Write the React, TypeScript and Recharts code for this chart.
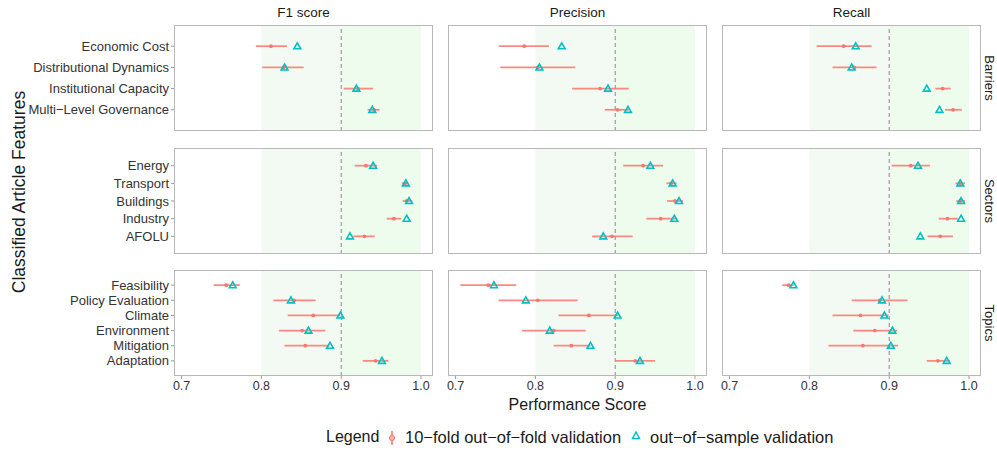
import React from "react";
import {
  ScatterChart,
  Scatter,
  XAxis,
  YAxis,
  ErrorBar,
  ReferenceArea,
  ReferenceLine,
} from "recharts";

const metrics = ["F1 score", "Precision", "Recall"];
const groups = ["Barriers", "Sectors", "Topics"];

const barrierFeatures = [
  "Economic Cost",
  "Distributional Dynamics",
  "Institutional Capacity",
  "Multi\u2212Level Governance",
];
const sectorFeatures = ["Energy", "Transport", "Buildings", "Industry", "AFOLU"];
const topicFeatures = [
  "Feasibility",
  "Policy Evaluation",
  "Climate",
  "Environment",
  "Mitigation",
  "Adaptation",
];

const xTicks = [0.7, 0.8, 0.9, 1.0];

// Barriers
const f1BarriersMean = [0.812, 0.828, 0.921, 0.941];
const f1BarriersLow = [0.793, 0.801, 0.903, 0.933];
const f1BarriersHigh = [0.832, 0.853, 0.94, 0.948];
const f1BarriersOos = [0.845, 0.829, 0.919, 0.939];

const precBarriersMean = [0.786, 0.803, 0.881, 0.903];
const precBarriersLow = [0.754, 0.756, 0.846, 0.887];
const precBarriersHigh = [0.817, 0.85, 0.917, 0.917];
const precBarriersOos = [0.833, 0.805, 0.891, 0.916];

const recBarriersMean = [0.843, 0.856, 0.967, 0.98];
const recBarriersLow = [0.809, 0.829, 0.958, 0.97];
const recBarriersHigh = [0.878, 0.884, 0.977, 0.991];
const recBarriersOos = [0.858, 0.853, 0.947, 0.963];

// Sectors
const f1SectorsMean = [0.931, 0.98, 0.982, 0.966, 0.929];
const f1SectorsLow = [0.917, 0.976, 0.977, 0.957, 0.915];
const f1SectorsHigh = [0.945, 0.984, 0.989, 0.975, 0.942];
const f1SectorsOos = [0.94, 0.981, 0.985, 0.982, 0.911];

const precSectorsMean = [0.935, 0.97, 0.975, 0.957, 0.896];
const precSectorsLow = [0.91, 0.964, 0.965, 0.939, 0.871];
const precSectorsHigh = [0.96, 0.977, 0.985, 0.977, 0.922];
const precSectorsOos = [0.944, 0.972, 0.98, 0.974, 0.885];

const recSectorsMean = [0.927, 0.989, 0.989, 0.973, 0.964];
const recSectorsLow = [0.903, 0.983, 0.984, 0.962, 0.948];
const recSectorsHigh = [0.951, 0.995, 0.995, 0.986, 0.98];
const recSectorsOos = [0.936, 0.989, 0.99, 0.99, 0.939];

// Topics
const f1TopicsMean = [0.756, 0.841, 0.865, 0.851, 0.855, 0.943];
const f1TopicsLow = [0.74, 0.815, 0.833, 0.822, 0.829, 0.927];
const f1TopicsHigh = [0.773, 0.868, 0.899, 0.88, 0.885, 0.959];
const f1TopicsOos = [0.764, 0.837, 0.899, 0.859, 0.886, 0.951];

const precTopicsMean = [0.741, 0.803, 0.867, 0.823, 0.845, 0.925];
const precTopicsLow = [0.706, 0.754, 0.829, 0.783, 0.823, 0.9];
const precTopicsHigh = [0.776, 0.853, 0.904, 0.863, 0.869, 0.95];
const precTopicsOos = [0.748, 0.788, 0.903, 0.818, 0.869, 0.931];

const recTopicsMean = [0.774, 0.888, 0.864, 0.882, 0.867, 0.961];
const recTopicsLow = [0.766, 0.853, 0.829, 0.855, 0.824, 0.947];
const recTopicsHigh = [0.78, 0.923, 0.899, 0.91, 0.911, 0.976];
const recTopicsOos = [0.78, 0.891, 0.894, 0.904, 0.902, 0.972];

const features = [barrierFeatures, sectorFeatures, topicFeatures];
const panelSeries = [
  [
    [f1BarriersMean, f1BarriersLow, f1BarriersHigh, f1BarriersOos],
    [precBarriersMean, precBarriersLow, precBarriersHigh, precBarriersOos],
    [recBarriersMean, recBarriersLow, recBarriersHigh, recBarriersOos],
  ],
  [
    [f1SectorsMean, f1SectorsLow, f1SectorsHigh, f1SectorsOos],
    [precSectorsMean, precSectorsLow, precSectorsHigh, precSectorsOos],
    [recSectorsMean, recSectorsLow, recSectorsHigh, recSectorsOos],
  ],
  [
    [f1TopicsMean, f1TopicsLow, f1TopicsHigh, f1TopicsOos],
    [precTopicsMean, precTopicsLow, precTopicsHigh, precTopicsOos],
    [recTopicsMean, recTopicsLow, recTopicsHigh, recTopicsOos],
  ],
];

const RED = "#F8766D";
const CYAN = "#00BFC4";
const FONT = "'Liberation Sans', Arial, Helvetica, sans-serif";

const COL_LEFT = [174, 448, 722];
const ROW_TOP = [25, 148, 270];
const PANEL_W = 259;
const PANEL_H = 106;
const X_AXIS_H = 20;
const SIDE_PAD = 14; // room for edge tick labels in columns 2 and 3
const DOMAIN: [number, number] = [0.6905, 1.015];

const Dot = (p: any) => <circle cx={p.cx} cy={p.cy} r={1.9} fill={RED} />;

const Tri = (p: any) => {
  const s = 3.4;
  const d = `M${p.cx},${p.cy - s} L${p.cx + s},${p.cy + s * 0.75} L${p.cx - s},${p.cy + s * 0.75} Z`;
  return <path d={d} fill="none" stroke={CYAN} strokeWidth={1.6} strokeLinejoin="miter" />;
};

const Panel = ({ row, col }: { row: number; col: number }) => {
  const labels = features[row];
  const [mean, low, high, oos] = panelSeries[row][col];
  const cv = labels.map((_, i) => ({
    y: i + 1,
    v: mean[i],
    err: [mean[i] - low[i], high[i] - mean[i]],
  }));
  const oosData = labels.map((_, i) => ({ y: i + 1, v: oos[i] }));
  const showY = col === 0;
  const showX = row === 2;
  const yW = showY ? COL_LEFT[0] : 0;
  const padL = showY ? 0 : SIDE_PAD;
  const left = showY ? 0 : COL_LEFT[col] - padL;
  const width = PANEL_W + yW + padL + SIDE_PAD;
  const height = PANEL_H + (showX ? X_AXIS_H : 0);

  return (
    <div style={{ position: "absolute", left, top: ROW_TOP[row] }}>
      <ScatterChart
        width={width}
        height={height}
        margin={{ top: 0, right: SIDE_PAD, bottom: 0, left: padL }}
      >
        <XAxis
          type="number"
          dataKey="v"
          domain={DOMAIN}
          allowDataOverflow
          ticks={xTicks}
          interval={0}
          tickFormatter={(v: number) => v.toFixed(1)}
          hide={!showX}
          height={X_AXIS_H}
          axisLine={false}
          tickSize={3}
          tickLine={{ stroke: "#999" }}
          tick={{ fontSize: 12.5, fill: "#333" }}
        />
        <YAxis
          type="number"
          dataKey="y"
          domain={[0, labels.length + 1]}
          allowDataOverflow
          reversed
          ticks={labels.map((_, i) => i + 1)}
          tickFormatter={(i: number) => labels[i - 1] ?? ""}
          hide={!showY}
          width={yW}
          axisLine={false}
          tickSize={3}
          tickMargin={2}
          tickLine={{ stroke: "#999" }}
          tick={{ fontSize: 13, fill: "#333" }}
          interval={0}
        />
        <ReferenceArea x1={0.8} x2={0.9} fill="#f3faf3" fillOpacity={1} stroke="none" />
        <ReferenceArea x1={0.9} x2={1.0} fill="#edfced" fillOpacity={1} stroke="none" />
        <ReferenceLine x={0.9} stroke="#8a8a8a" strokeDasharray="4 3" strokeWidth={1} />
        <Scatter data={cv} shape={Dot} isAnimationActive={false}>
          <ErrorBar
            dataKey="err"
            direction="x"
            width={0}
            stroke={RED}
            strokeOpacity={0.85}
            strokeWidth={1.8}
          />
        </Scatter>
        <Scatter data={oosData} shape={Tri} isAnimationActive={false} />
      </ScatterChart>
      <div
        style={{
          position: "absolute",
          left: yW + padL,
          top: 0,
          width: PANEL_W,
          height: PANEL_H,
          border: "1px solid #b8b8b8",
          boxSizing: "border-box",
          pointerEvents: "none",
        }}
      />
    </div>
  );
};

const App: React.FC = () => {
  return (
    <div
      style={{
        position: "absolute",
        left: 0,
        top: 0,
        width: 997,
        height: 451,
        background: "#fff",
        fontFamily: FONT,
        color: "#1a1a1a",
        overflow: "hidden",
      }}
    >
      {metrics.map((m, c) => (
        <div
          key={m}
          style={{
            position: "absolute",
            left: COL_LEFT[c],
            top: 5,
            width: PANEL_W,
            textAlign: "center",
            fontSize: 13.5,
          }}
        >
          {m}
        </div>
      ))}
      {[0, 1, 2].map((r) =>
        [0, 1, 2].map((c) => <Panel key={`${r}-${c}`} row={r} col={c} />)
      )}
      {groups.map((g, r) => (
        <div
          key={g}
          style={{
            position: "absolute",
            left: 989 - 50,
            top: ROW_TOP[r] + PANEL_H / 2 - 8,
            width: 100,
            height: 16,
            lineHeight: "16px",
            textAlign: "center",
            fontSize: 13,
            transform: "rotate(90deg)",
          }}
        >
          {g}
        </div>
      ))}
      <div
        style={{
          position: "absolute",
          left: 19 - 150,
          top: 192 - 11,
          width: 300,
          height: 22,
          lineHeight: "22px",
          textAlign: "center",
          fontSize: 17.5,
          transform: "rotate(-90deg)",
        }}
      >
        Classified Article Features
      </div>
      <div
        style={{
          position: "absolute",
          left: COL_LEFT[0],
          top: 396,
          width: COL_LEFT[2] + PANEL_W - COL_LEFT[0],
          textAlign: "center",
          fontSize: 16,
        }}
      >
        Performance Score
      </div>
      {/* Legend */}
      <div style={{ position: "absolute", left: 326, top: 428, fontSize: 16 }}>Legend</div>
      <svg style={{ position: "absolute", left: 386, top: 429 }} width={12} height={18}>
        <line x1={6} y1={2} x2={6} y2={16} stroke={RED} strokeWidth={1.5} />
        <circle cx={6} cy={9} r={2.6} fill="#fbb3ad" stroke={RED} strokeWidth={1} />
      </svg>
      <div style={{ position: "absolute", left: 405, top: 428, fontSize: 16.5 }}>
        10{"\u2212"}fold out{"\u2212"}of{"\u2212"}fold validation
      </div>
      <svg style={{ position: "absolute", left: 630, top: 429 }} width={12} height={14}>
        <path d="M6,3 L9.5,9.5 L2.5,9.5 Z" fill="none" stroke={CYAN} strokeWidth={1.5} />
      </svg>
      <div style={{ position: "absolute", left: 650, top: 428, fontSize: 16.5 }}>
        out{"\u2212"}of{"\u2212"}sample validation
      </div>
    </div>
  );
};

export default App;
